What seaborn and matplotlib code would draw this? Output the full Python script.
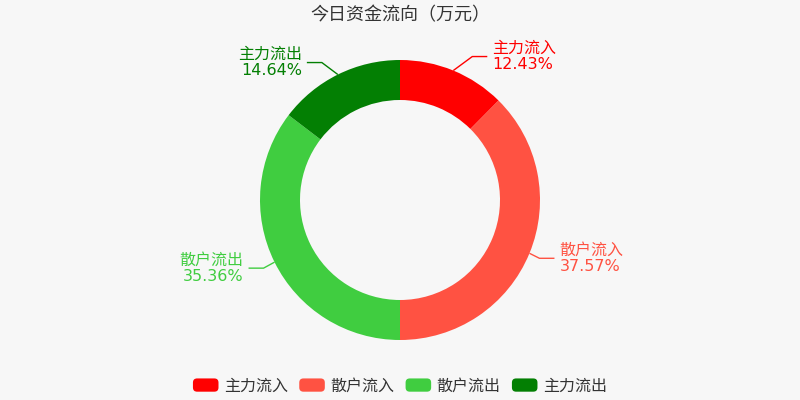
import numpy as np
import matplotlib
matplotlib.use("Agg")
import matplotlib.pyplot as plt
import seaborn as sns
from matplotlib.patches import FancyBboxPatch, Patch
from matplotlib.legend_handler import HandlerPatch

# ---- data ----
categories = ["主力流入", "散户流入", "散户流出", "主力流出"]
percents = [12.43, 37.57, 35.36, 14.64]
pct_labels = ["12.43%", "37.57%", "35.36%", "14.64%"]
colors = ["#ff0000", "#ff5242", "#40cd40", "#037f03"]
title = "今日资金流向（万元）"

# ---- layout (pixels) ----
W, H = 800, 400
CX, CY = 400, 200
R_OUT, RING = 140, 40
elbow_off = [(19, -14), (10, 5), (-11, 6), (-16, -12)]
HLEN, GAP, LINE_DY = 15, 5, 8
BG = "#f7f7f7"

sns.set_theme(style="white")
plt.rcParams["font.family"] = ["DejaVu Sans", "Noto Sans CJK SC"]

fig = plt.figure(figsize=(8, 4), dpi=100, facecolor=BG)
ax = fig.add_axes([0, 0, 1, 1])
ax.set_facecolor(BG)

def py(y):
    return H - y

wedges, _ = ax.pie(percents, colors=colors, startangle=90, counterclock=False,
                   center=(CX, py(CY)), radius=R_OUT,
                   wedgeprops=dict(width=RING, linewidth=0))
ax.set_xlim(0, W)
ax.set_ylim(0, H)
ax.set_aspect("equal", adjustable="box")
ax.axis("off")

# labels with leader lines
cum = np.cumsum([0] + percents)
total = cum[-1]
for i, (cat, pl, col) in enumerate(zip(categories, pct_labels, colors)):
    mid = (cum[i] + cum[i + 1]) / 2 / total
    ang = np.deg2rad(90 - mid * 360)
    x0 = CX + R_OUT * np.cos(ang)
    y0 = CY - R_OUT * np.sin(ang)
    ex, ey = x0 + elbow_off[i][0], y0 + elbow_off[i][1]
    side = 1 if ex > CX else -1
    x2 = ex + side * HLEN
    ax.plot([x0, ex, x2], [py(y0), py(ey), py(ey)], color=col, lw=1,
            solid_capstyle="butt")
    tx = x2 + side * GAP
    ha = "left" if side > 0 else "right"
    ax.text(tx, py(ey - LINE_DY), cat, color=col, fontsize=11.5, ha=ha, va="center")
    ax.text(tx, py(ey + LINE_DY), pl, color=col, fontsize=11.5, ha=ha, va="center")

ax.text(400, py(15), title, color="#333333", fontsize=13, ha="center", va="center")

# legend with rounded swatches
class RoundHandler(HandlerPatch):
    def create_artists(self, legend, orig_handle, xdescent, ydescent, width, height, fontsize, trans):
        p = FancyBboxPatch((-xdescent, -ydescent), width, height,
                           boxstyle="round,pad=0,rounding_size=3",
                           facecolor=orig_handle.get_facecolor(), edgecolor="none",
                           transform=trans)
        return [p]

handles = [Patch(facecolor=c, label=l) for c, l in zip(colors, categories)]
leg = fig.legend(handles=handles, loc="center", bbox_to_anchor=(0.5, 1 - 386 / H),
                 ncol=4, frameon=False, fontsize=11.5, handlelength=1.6,
                 handleheight=0.9, handletextpad=0.35, columnspacing=0.7,
                 handler_map={Patch: RoundHandler()})
for t in leg.get_texts():
    t.set_color("#333333")

fig.savefig("out.png", dpi=100, facecolor=BG)
